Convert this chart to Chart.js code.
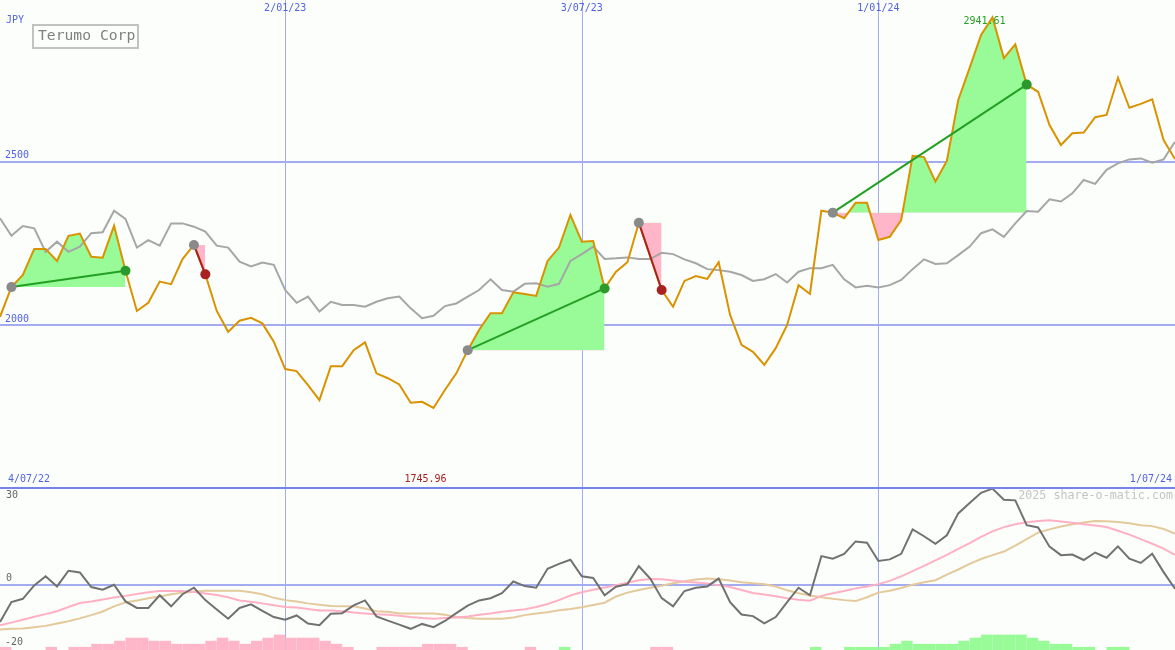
<!DOCTYPE html>
<html>
<head>
<meta charset="utf-8">
<script src="https://cdn.jsdelivr.net/npm/chart.js@4/dist/chart.umd.min.js"></script>
<style>
html,body{margin:0;padding:0;background:#fbfefb;}
#wrap{position:relative;width:1175px;height:650px;overflow:hidden;background:#fbfefb;}
#c1{position:absolute;left:0;top:0;}
#c2{position:absolute;left:0;top:487px;}
</style>
</head>
<body>
<div id="wrap">
<canvas id="c1" width="1175" height="487"></canvas>
<canvas id="c2" width="1175" height="163"></canvas>
</div>
<script>
// ---- data (weekly closes, JPY) ----
const title = 'Terumo Corp';
const currency = 'JPY';
const rangeStart = '4/07/22';
const rangeEnd = '1/07/24';
const dateTickIdx = [25, 51, 77];
const dateTickLabels = ['2/01/23', '3/07/23', '1/01/24'];
const priceGrid = [2000, 2500];
const oscGrid = [0];
const oscLabels = [30, 0, -20];

const price = [2025,2116,2153,2233,2233,2196,2273,2280,2209,2206,
 2304,2166,2043,2068,2133,2125,2202,2245,2155,2043,
 1979,2013,2022,2005,1949,1865,1859,1816,1770,1874,
 1874,1923,1947,1852,1837,1818,1762,1765,1745.96,1801,
 1852,1923,1985,2036,2036,2100,2095,2089,2196,2237,
 2337,2255,2257,2112,2163,2192,2313,2211,2107,2056,
 2135,2150,2141,2192,2031,1939,1918,1878,1929,2000,
 2122,2095,2350,2344,2327,2374,2374,2260,2270,2321,
 2518,2514,2439,2502,2689,2787,2888,2941.61,2817,2859,
 2736,2714,2612,2551,2587,2589,2636,2643,2757,2665,
 2677,2691,2566,2508];

const avg = [2327,2273,2303,2296,2224,2255,2224,2240,2281,2284,
 2350,2325,2237,2260,2243,2311,2311,2301,2286,2243,
 2237,2194,2179,2191,2184,2107,2068,2087,2041,2071,
 2061,2061,2056,2071,2082,2087,2051,2021,2028,2058,
 2066,2087,2107,2140,2107,2102,2126,2128,2117,2126,
 2196,2217,2240,2202,2204,2207,2202,2202,2221,2217,
 2201,2189,2171,2168,2163,2153,2135,2140,2156,2130,
 2163,2174,2174,2184,2140,2115,2120,2115,2122,2138,
 2171,2201,2187,2189,2214,2240,2281,2293,2270,2311,
 2349,2347,2385,2378,2403,2444,2432,2475,2495,2507,
 2510,2497,2507,2561];

const tradeEntry = [1, 17, 41, 56, 73];
const tradeExit  = [11, 18, 53, 58, 90];

const osc = [-11.4,-5.3,-4.3,-0.2,2.6,-0.5,4.3,3.8,-0.7,-1.5,
 0.0,-5.1,-7.1,-7.1,-3.2,-6.6,-2.9,-0.9,-4.7,-7.6,
 -10.4,-7.1,-6.0,-8.0,-9.9,-10.7,-9.4,-11.9,-12.4,-8.9,
 -8.7,-6.3,-4.8,-9.7,-11.0,-12.2,-13.5,-12.0,-13.0,-11.1,
 -8.7,-6.4,-4.8,-4.1,-2.6,1.0,-0.4,-0.9,4.9,6.4,
 7.7,2.6,2.1,-3.2,-0.6,0.2,5.7,1.9,-4.1,-6.6,
 -1.9,-0.9,-0.5,1.9,-5.3,-9.1,-9.6,-11.8,-9.9,-5.3,
 -0.9,-3.2,8.8,8.0,9.5,13.3,12.9,7.3,7.8,9.5,
 17.0,14.9,12.6,15.2,21.9,25.1,28.2,29.5,26.1,25.9,
 18.3,17.6,11.7,9.1,9.3,7.6,9.9,8.3,11.8,8.0,
 6.7,9.5,3.9,-1.2];

const oscFast = [-12.4,-11.6,-10.7,-9.8,-9.0,-8.1,-6.8,-5.6,-5.1,-4.5,
 -3.9,-3.4,-2.8,-2.3,-1.9,-1.9,-1.9,-2.2,-2.7,-3.1,
 -3.8,-4.8,-5.2,-5.7,-6.3,-6.8,-7.0,-7.4,-7.9,-7.9,
 -8.1,-8.5,-8.8,-9.0,-9.2,-9.5,-9.9,-10.2,-10.4,-10.2,
 -10.0,-9.7,-9.2,-8.8,-8.3,-7.9,-7.5,-6.8,-5.9,-4.7,
 -3.3,-2.3,-1.5,-0.8,-0.1,0.6,1.4,1.8,1.7,1.3,
 0.9,0.7,0.4,-0.1,-0.7,-1.6,-2.5,-3.0,-3.5,-4.1,
 -4.6,-4.9,-3.4,-2.6,-1.9,-1.1,-0.5,0.2,1.2,2.6,
 4.2,5.8,7.5,9.2,11.0,12.8,14.7,16.4,17.7,18.6,
 19.2,19.6,19.8,19.4,19.0,18.6,18.2,17.7,16.6,15.4,
 14.0,12.6,11.1,9.2];

const oscSlow = [-13.7,-13.5,-13.4,-13.0,-12.6,-11.9,-11.2,-10.3,-9.3,-8.2,
 -6.6,-5.4,-4.8,-4.1,-3.6,-2.9,-2.4,-2.1,-1.8,-1.8,
 -1.8,-1.8,-2.3,-2.9,-4.0,-4.7,-5.1,-5.7,-6.1,-6.5,
 -6.6,-6.6,-7.3,-8.1,-8.3,-8.8,-8.8,-8.8,-8.8,-9.2,
 -9.9,-10.2,-10.4,-10.4,-10.4,-10.0,-9.3,-8.8,-8.4,-7.8,
 -7.4,-6.9,-6.2,-5.5,-3.6,-2.4,-1.6,-0.9,-0.3,0.5,
 1.1,1.6,1.9,1.7,1.3,0.8,0.5,0.2,-0.5,-1.7,
 -2.6,-3.3,-3.8,-4.3,-4.7,-5.0,-3.8,-2.4,-1.8,-1.0,
 0.0,0.8,1.4,3.1,4.7,6.4,7.9,9.1,10.2,12.0,
 14.0,16.0,17.0,17.9,18.6,19.1,19.6,19.5,19.3,18.9,
 18.3,18.0,17.1,15.7];

const hist = [-1,0,0,0,-1,0,-1,-1,-2,-2,
 -3,-4,-4,-3,-3,-2,-2,-2,-3,-4,
 -3,-2,-3,-4,-5,-4,-4,-4,-3,-2,
 -1,0,0,-1,-1,-1,-1,-2,-2,-2,
 -1,0,0,0,0,0,-1,0,0,1,
 0,0,0,0,0,0,0,-1,-1,0,
 0,0,0,0,0,0,0,0,0,0,
 0,1,0,0,1,1,1,1,2,3,
 2,2,2,2,3,4,5,5,5,5,
 4,3,2,2,1,1,0,1,1,0,
 0,0,0];

// ---- styles ----
const C_PRICE = '#d99200', C_AVG = '#a6a6a6', C_GRID = '#a3acf0', C_SEP = '#7584ea';
const C_TEXT = '#5262e4', C_UP = '#23a023', C_DOWN = '#a82020';
const C_FILL_UP = '#98fb98', C_FILL_DN = '#ffb6c8';
const FONT = '10px "DejaVu Sans Mono", monospace';

const pts = arr => arr.map((v, i) => ({x: i, y: v}));
const lastIdx = price.length - 1;

// ---- top chart ----
const win = tradeEntry.map((e, k) => price[tradeExit[k]] > price[e]);
const topSets = [];
topSets.push({data: tradeExit.map(i => ({x: i, y: price[i]})), showLine: false, pointRadius: 5,
  pointBackgroundColor: win.map(w => w ? '#2b9a2b' : '#a82222'), pointBorderWidth: 0, pointBorderColor: 'rgba(0,0,0,0)', order: 0});
topSets.push({data: tradeEntry.map(i => ({x: i, y: price[i]})), showLine: false, pointRadius: 5,
  pointBackgroundColor: '#8a8a8a', pointBorderWidth: 0, pointBorderColor: 'rgba(0,0,0,0)', order: 0});
tradeEntry.forEach((e, k) => {
  const x = tradeExit[k];
  topSets.push({data: [{x: e, y: price[e]}, {x: x, y: price[x]}], borderColor: win[k] ? C_UP : C_DOWN,
    borderWidth: 2, pointRadius: 0, order: 1});
});
topSets.push({data: pts(price), borderColor: C_PRICE, borderWidth: 2, pointRadius: 0, order: 2});
topSets.push({data: pts(avg), borderColor: C_AVG, borderWidth: 2, pointRadius: 0, order: 3});
tradeEntry.forEach((e, k) => {
  const d = [];
  for (let i = e; i <= tradeExit[k]; i++) d.push({x: i, y: price[i]});
  topSets.push({data: d, borderWidth: 0, borderColor: 'rgba(0,0,0,0)', pointRadius: 0,
    fill: {target: {value: price[e]}, above: C_FILL_UP, below: C_FILL_DN}, order: 4});
});

const topDeco = {
  id: 'topDeco',
  beforeDatasetsDraw(chart) {
    const {ctx, chartArea: a, scales: {x, y}} = chart;
    ctx.save();
    ctx.fillStyle = C_GRID;
    priceGrid.forEach(v => { const py = Math.round(y.getPixelForValue(v)); ctx.fillRect(a.left, py - 1, a.width, 2); });
    dateTickIdx.forEach(i => { const px = Math.round(x.getPixelForValue(i)); ctx.fillRect(px, a.top, 1, a.height); });
    ctx.restore();
  },
  afterDraw(chart) {
    const {ctx, chartArea: a, scales: {x, y}} = chart;
    ctx.save();
    ctx.font = FONT; ctx.textBaseline = 'middle';
    ctx.fillStyle = C_TEXT;
    ctx.textAlign = 'left';
    ctx.fillText(currency, a.left + 6, a.top + 20);
    priceGrid.forEach(v => ctx.fillText(String(v), a.left + 5, y.getPixelForValue(v) - 6));
    ctx.fillText(rangeStart, a.left + 8, a.bottom - 8);
    ctx.textAlign = 'right';
    ctx.fillText(rangeEnd, a.right - 3, a.bottom - 8);
    ctx.textAlign = 'center';
    dateTickIdx.forEach((i, k) => ctx.fillText(dateTickLabels[k], x.getPixelForValue(i), a.top + 8));
    // min / max labels
    let mi = 0, ma = 0;
    price.forEach((v, i) => { if (v < price[mi]) mi = i; if (v > price[ma]) ma = i; });
    ctx.fillStyle = C_DOWN;
    ctx.fillText(price[mi].toFixed(2), x.getPixelForValue(mi) - 8, a.bottom - 8);
    ctx.fillStyle = C_UP;
    ctx.fillText(price[ma].toFixed(2), x.getPixelForValue(ma) - 8, Math.max(y.getPixelForValue(price[ma]) + 3, a.top + 21));
    // title box
    ctx.strokeStyle = '#c2c2c2'; ctx.lineWidth = 2;
    ctx.strokeRect(a.left + 33, a.top + 25, 105, 23);
    ctx.fillStyle = '#808080';
    ctx.font = '14.7px "DejaVu Sans Mono", monospace';
    ctx.textAlign = 'left';
    ctx.fillText(title, a.left + 38, a.top + 36.5);
    ctx.restore();
  }
};

new Chart(document.getElementById('c1'), {
  type: 'line',
  data: {datasets: topSets},
  options: {
    responsive: false, animation: false, events: [],
    layout: {padding: 0, autoPadding: false},
    plugins: {legend: {display: false}, tooltip: {enabled: false}},
    elements: {line: {tension: 0}},
    scales: {
      x: {type: 'linear', min: 0, max: lastIdx, display: false, offset: false},
      y: {type: 'linear', min: 1504, max: 2995, display: false}
    }
  },
  plugins: [topDeco]
});

// ---- lower chart ----
const botDeco = {
  id: 'botDeco',
  beforeDatasetsDraw(chart) {
    const {ctx, chartArea: a, scales: {x, y}} = chart;
    ctx.save();
    ctx.fillStyle = C_GRID;
    oscGrid.forEach(v => { const py = Math.round(y.getPixelForValue(v)); ctx.fillRect(a.left, py - 1, a.width, 2); });
    dateTickIdx.forEach(i => { const px = Math.round(x.getPixelForValue(i)); ctx.fillRect(px, a.top, 1, a.height); });
    ctx.restore();
  },
  afterDraw(chart) {
    const {ctx, chartArea: a, scales: {y}} = chart;
    ctx.save();
    ctx.fillStyle = C_SEP;
    ctx.fillRect(a.left, a.top, a.width, 2);
    ctx.font = FONT; ctx.textBaseline = 'middle'; ctx.textAlign = 'left';
    ctx.fillStyle = '#666666';
    oscLabels.forEach(v => {
      const py = Math.min(Math.max(y.getPixelForValue(v) - 6, a.top + 8), a.bottom - 8);
      ctx.fillText(String(v), a.left + (v < 0 ? 5 : 6), py);
    });
    ctx.fillStyle = '#c4c4c4';
    ctx.font = '11.7px "DejaVu Sans Mono", monospace';
    ctx.textAlign = 'right';
    ctx.fillText('2025 share-o-matic.com', a.right - 2, a.top + 9);
    ctx.restore();
  }
};

new Chart(document.getElementById('c2'), {
  type: 'line',
  data: {datasets: [
    {data: pts(osc), borderColor: '#717171', borderWidth: 2, pointRadius: 0, order: 0},
    {data: pts(oscFast), borderColor: '#ffb0c4', borderWidth: 2, pointRadius: 0, order: 1},
    {data: pts(oscSlow), borderColor: '#e4c99b', borderWidth: 2, pointRadius: 0, order: 2},
    {type: 'bar', yAxisID: 'yh', data: hist.map((v, i) => ({x: i + 0.5, y: Math.abs(v)})),
      backgroundColor: hist.map(v => v > 0 ? C_FILL_UP : C_FILL_DN), borderWidth: 0,
      barPercentage: 1, categoryPercentage: 1, grouped: false, inflateAmount: 0, order: 3}
  ]},
  options: {
    responsive: false, animation: false, events: [],
    layout: {padding: 0, autoPadding: false},
    plugins: {legend: {display: false}, tooltip: {enabled: false}},
    elements: {line: {tension: 0}},
    scales: {
      x: {type: 'linear', min: 0, max: lastIdx, display: false, offset: false},
      y: {type: 'linear', min: -20, max: 30, display: false},
      yh: {type: 'linear', min: 0, max: 53, display: false}
    }
  },
  plugins: [botDeco]
});
</script>
</body>
</html>
